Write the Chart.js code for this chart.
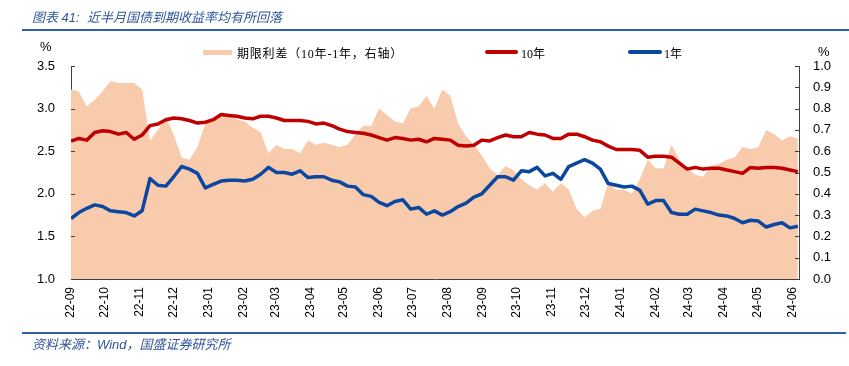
<!DOCTYPE html>
<html>
<head>
<meta charset="utf-8">
<script src="https://cdn.jsdelivr.net/npm/chart.js@4.4.1/dist/chart.umd.min.js"></script>
<style>
    body { margin: 0; width: 849px; height: 366px; background: #fff; overflow: hidden; position: relative; font-family: 'Liberation Sans', Arial, sans-serif; }
    #chart { position: absolute; left: 0; top: 0; }
    .txt { position: absolute; white-space: nowrap; }
    .title { left: 32px; top: 7px; font-size: 13px; font-style: italic; color: #2f5597; font-family: 'Liberation Sans', 'Noto Sans CJK SC', sans-serif; }
    .source { left: 32px; top: 334px; font-size: 13px; font-style: italic; color: #2f5597; font-family: 'Liberation Sans', 'Noto Sans CJK SC', sans-serif; }
    .rule { position: absolute; left: 22px; height: 2px; background: #2f5fa8; }
    .legend { font-size: 12px; color: #000; font-family: 'Liberation Serif', 'Noto Sans CJK SC', serif; top: 44px; }
    .sw { position: absolute; }
    .unit { font-size: 13px; color: #000; }
</style>
</head>
<body>
<canvas id="chart" width="849" height="366"></canvas>

<div class="txt title">图表 41:&nbsp; 近半月国债到期收益率均有所回落</div>
<div class="rule" style="top:29px; width:827px;"></div>
<div class="rule" style="top:332px; width:824px;"></div>
<div class="txt source">资料来源：Wind，国盛证券研究所</div>

<div class="txt unit" style="left:40px; top:39px;">%</div>
<div class="txt unit" style="left:818px; top:44px;">%</div>

<div class="sw" style="left:203px; top:50px; width:29px; height:5px; background:#f8cbad;"></div>
<div class="txt legend" style="left:237px; letter-spacing:0.8px;">期限利差（10年-1年，右轴）</div>
<div class="sw" style="left:485px; top:50px; width:33px; height:4px; border-radius:2px; background:#c00000;"></div>
<div class="txt legend" style="left:521px;">10年</div>
<div class="sw" style="left:628px; top:50px; width:34px; height:4px; border-radius:2px; background:#0b47a1;"></div>
<div class="txt legend" style="left:664px;">1年</div>

<script>
// 周度采样：自 2022-09-01 起的天数
const weekDays = Array.from({ length: 93 }, (_, i) => i * 7);

// 每月首日（距 2022-09-01 的天数）和对应的轴标签
const monthDays = [0, 30, 61, 91, 122, 153, 181, 212, 242, 273, 303, 334, 365, 395, 426, 456, 487, 518, 547, 578, 608, 639];
const monthLabels = ['22-09', '22-10', '22-11', '22-12', '23-01', '23-02', '23-03', '23-04', '23-05', '23-06', '23-07',
    '23-08', '23-09', '23-10', '23-11', '23-12', '24-01', '24-02', '24-03', '24-04', '24-05', '24-06'];

// 10年国债到期收益率 (%)
const yield10 = [2.62, 2.65, 2.63, 2.72, 2.74, 2.73, 2.70, 2.72, 2.64, 2.69,
    2.80, 2.82, 2.87, 2.89, 2.88, 2.86, 2.83, 2.84, 2.87, 2.93,
    2.92, 2.91, 2.89, 2.88, 2.91, 2.91, 2.89, 2.86, 2.86, 2.86,
    2.85, 2.82, 2.83, 2.80, 2.76, 2.73, 2.72, 2.71, 2.69, 2.66,
    2.63, 2.66, 2.65, 2.63, 2.64, 2.61, 2.65, 2.64, 2.63, 2.57,
    2.56, 2.57, 2.63, 2.62, 2.66, 2.69, 2.67, 2.67, 2.72, 2.70,
    2.69, 2.65, 2.65, 2.70, 2.70, 2.67, 2.63, 2.61, 2.56, 2.52,
    2.52, 2.52, 2.51, 2.43, 2.44, 2.44, 2.43, 2.36, 2.29, 2.31,
    2.29, 2.30, 2.30, 2.28, 2.26, 2.24, 2.31, 2.30, 2.31, 2.31,
    2.30, 2.28, 2.26];

// 1年国债到期收益率 (%)
const yield1 = [1.71, 1.78, 1.83, 1.87, 1.85, 1.80, 1.79, 1.78, 1.74, 1.80,
    2.18, 2.10, 2.09, 2.20, 2.32, 2.29, 2.24, 2.07, 2.11, 2.15,
    2.16, 2.16, 2.15, 2.17, 2.23, 2.31, 2.25, 2.25, 2.23, 2.27,
    2.19, 2.20, 2.20, 2.16, 2.14, 2.09, 2.08, 1.99, 1.97, 1.90,
    1.86, 1.91, 1.93, 1.82, 1.84, 1.76, 1.80, 1.75, 1.79, 1.85,
    1.89, 1.96, 2.00, 2.10, 2.20, 2.20, 2.16, 2.27, 2.26, 2.31,
    2.21, 2.24, 2.17, 2.32, 2.36, 2.40, 2.36, 2.29, 2.12, 2.10,
    2.08, 2.09, 2.04, 1.88, 1.92, 1.92, 1.78, 1.76, 1.76, 1.82,
    1.80, 1.78, 1.75, 1.74, 1.71, 1.66, 1.69, 1.68, 1.61, 1.64,
    1.66, 1.60, 1.62];

// 期限利差（10年-1年，右轴）
const spread = [0.89, 0.88, 0.81, 0.84, 0.88, 0.93, 0.92, 0.92, 0.92, 0.89,
    0.65, 0.70, 0.76, 0.68, 0.57, 0.56, 0.62, 0.73, 0.75, 0.77,
    0.77, 0.75, 0.74, 0.71, 0.69, 0.59, 0.63, 0.61, 0.61, 0.59,
    0.65, 0.63, 0.64, 0.63, 0.62, 0.63, 0.68, 0.72, 0.72, 0.80,
    0.77, 0.74, 0.73, 0.80, 0.81, 0.86, 0.80, 0.89, 0.86, 0.73,
    0.67, 0.63, 0.58, 0.52, 0.49, 0.53, 0.51, 0.47, 0.44, 0.42,
    0.45, 0.41, 0.45, 0.42, 0.33, 0.29, 0.32, 0.33, 0.45, 0.42,
    0.42, 0.40, 0.47, 0.56, 0.52, 0.52, 0.63, 0.56, 0.52, 0.49,
    0.48, 0.53, 0.54, 0.56, 0.57, 0.62, 0.61, 0.62, 0.70, 0.68,
    0.65, 0.67, 0.66];

const toPoints = arr => weekDays.map((d, i) => ({ x: d, y: arr[i] }));

// 轴内侧的小刻度线
const innerTicks = {
    id: 'innerTicks',
    afterDraw(chart) {
        const ctx = chart.ctx;
        const { y, y1 } = chart.scales;
        ctx.save();
        ctx.strokeStyle = '#404040';
        ctx.lineWidth = 1;
        y.ticks.forEach(t => {
            const py = Math.round(y.getPixelForValue(t.value)) + 0.5;
            ctx.beginPath(); ctx.moveTo(y.right, py); ctx.lineTo(y.right + 4, py); ctx.stroke();
        });
        y1.ticks.forEach(t => {
            const py = Math.round(y1.getPixelForValue(t.value)) + 0.5;
            ctx.beginPath(); ctx.moveTo(y1.left, py); ctx.lineTo(y1.left - 4, py); ctx.stroke();
        });
        ctx.restore();
    }
};

const tickFont = { family: "'Liberation Sans', Arial, sans-serif", size: 13 };

new Chart(document.getElementById('chart'), {
    type: 'line',
    data: {
        datasets: [
            {
                label: '10年',
                data: toPoints(yield10),
                yAxisID: 'y',
                borderColor: '#c00000',
                borderWidth: 3.5,
                borderJoinStyle: 'round',
                pointRadius: 0,
                tension: 0,
                fill: false,
                order: 1
            },
            {
                label: '1年',
                data: toPoints(yield1),
                yAxisID: 'y',
                borderColor: '#0b47a1',
                borderWidth: 3.5,
                borderJoinStyle: 'round',
                pointRadius: 0,
                tension: 0,
                fill: false,
                order: 2
            },
            {
                label: '期限利差（10年-1年，右轴）',
                data: toPoints(spread),
                yAxisID: 'y1',
                borderWidth: 0,
                borderColor: 'rgba(0,0,0,0)',
                backgroundColor: '#f8cbad',
                pointRadius: 0,
                tension: 0,
                fill: 'origin',
                order: 3
            }
        ]
    },
    options: {
        responsive: false,
        animation: false,
        devicePixelRatio: 1,
        layout: { padding: { top: 66, left: 0, right: 0, bottom: 0 } },
        plugins: { legend: { display: false }, tooltip: { enabled: false } },
        scales: {
            x: {
                type: 'linear',
                min: 0,
                max: 645,
                grid: { display: false, drawTicks: false },
                border: { display: true, color: '#404040', width: 1 },
                afterBuildTicks: s => { s.ticks = monthDays.map(v => ({ value: v })); },
                afterFit: s => { s.height = 87; },
                ticks: {
                    autoSkip: false,
                    minRotation: 90,
                    maxRotation: 90,
                    padding: 8,
                    color: '#000',
                    font: { family: "'Liberation Sans', Arial, sans-serif", size: 12 },
                    callback: (v, i) => monthLabels[i]
                }
            },
            y: {
                position: 'left',
                min: 1.0,
                max: 3.5,
                grid: { display: false, drawTicks: false },
                border: { display: true, color: '#404040', width: 1 },
                afterFit: s => { s.width = 71; },
                ticks: { stepSize: 0.5, padding: 16, color: '#000', font: tickFont, callback: v => v.toFixed(1) }
            },
            y1: {
                position: 'right',
                min: 0,
                max: 1,
                grid: { display: false, drawTicks: false },
                border: { display: true, color: '#404040', width: 1 },
                afterFit: s => { s.width = 50; },
                ticks: { stepSize: 0.1, padding: 14, color: '#000', font: tickFont, callback: v => v.toFixed(1) }
            }
        }
    },
    plugins: [innerTicks]
});
</script>
</body>
</html>
